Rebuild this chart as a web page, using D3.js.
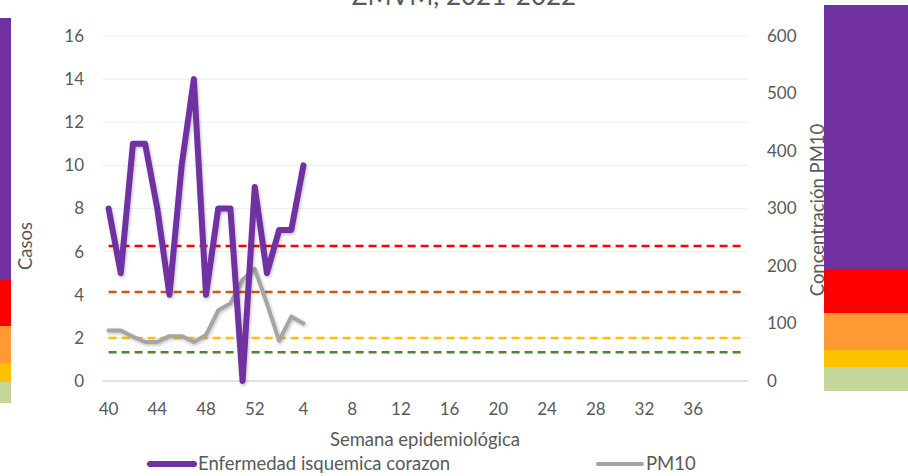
<!DOCTYPE html>
<html>
<head>
<meta charset="utf-8">
<script src="https://cdn.jsdelivr.net/npm/d3@7"></script>
<style>
  body { margin: 0; background: #fff; }
  text { font-family: Lato, "Open Sans", sans-serif; fill: #595959; }
</style>
</head>
<body>
<script>
// semanas epidemiologicas (2021 -> 2022)
const weeks = [40,41,42,43,44,45,46,47,48,49,50,51,52,
  1,2,3,4,5,6,7,8,9,10,11,12,13,14,15,16,17,18,19,20,
  21,22,23,24,25,26,27,28,29,30,31,32,33,34,35,36,37,38,39,40];

// casos semanales (eje izquierdo)
const casos = [8,5,11,11,8,4,10,14,4,8,8,0,9,5,7,7,10];

// concentracion PM10 (eje derecho)
const pm10 = [88,88,77,68,68,78,78,68,80,123,135,176,195,135,70,112,100];

// umbrales de calidad del aire PM10
const umbrales = [235, 155, 75, 50];
const umbralColors = ["#FF0000", "#C55A11", "#FFC000", "#548235"];

const leftTicks = [0,2,4,6,8,10,12,14,16];
const rightTicks = [0,100,200,300,400,500,600];

// franjas decorativas de color (de abajo hacia arriba)
const bandColors = ["#C4D79B", "#FFC000", "#FF9933", "#FF0000", "#7030A0"];
const bandStopsRight = [391, 367, 350, 313, 269, 5];
const bandStopsLeft = [403, 382, 363, 326, 280, 18];

const width = 908, height = 476;
const margin = {top: 36, left: 102.5, right: 160, bottom: 95};
const plotW = 748 - margin.left;
const plotBottom = 381;

let svg = d3.select("body").append("svg")
  .attr("width", width)
  .attr("height", height);

let defs = svg.append("defs");
let f = defs.append("filter").attr("id", "shadow")
  .attr("x", "-10%").attr("y", "-10%").attr("width", "120%").attr("height", "120%");
f.append("feDropShadow").attr("dx", 1).attr("dy", 1.5).attr("stdDeviation", 1.5)
  .attr("flood-color", "#000").attr("flood-opacity", 0.25);

let x = d3.scaleBand()
  .domain(d3.range(weeks.length))
  .range([margin.left, margin.left + plotW]);

let yL = d3.scaleLinear().domain([0, 16]).range([plotBottom, margin.top]);
let yR = d3.scaleLinear().domain([0, 600]).range([plotBottom, margin.top]);

let cx = i => x(i) + x.bandwidth() / 2;

// decorative strips
function strip(stops, x0, w) {
  for (let i = 0; i < bandColors.length; i++)
  {
    svg.append("rect")
      .attr("x", x0)
      .attr("y", stops[i + 1])
      .attr("width", w)
      .attr("height", stops[i] - stops[i + 1])
      .attr("fill", bandColors[i]);
  }
}
strip(bandStopsLeft, 0, 11);
strip(bandStopsRight, 824, 84);

// gridlines
svg.append("g")
  .selectAll("line")
  .data(leftTicks.filter(d => d > 0))
  .enter()
  .append("line")
  .attr("x1", margin.left)
  .attr("x2", margin.left + plotW)
  .attr("y1", d => yL(d))
  .attr("y2", d => yL(d))
  .attr("stroke", "#EFEFEF")
  .attr("stroke-width", 1.2);

// bottom axis line
svg.append("line")
  .attr("x1", margin.left)
  .attr("x2", margin.left + plotW)
  .attr("y1", plotBottom)
  .attr("y2", plotBottom)
  .attr("stroke", "#D9D9D9")
  .attr("stroke-width", 1.5);

// left axis
let axL = svg.append("g")
  .attr("transform", "translate(84,0)")
  .call(d3.axisLeft(yL).tickValues(leftTicks).tickSize(0).tickPadding(0));
axL.select(".domain").remove();
axL.selectAll("text").style("font-size", "17px").attr("fill", "#595959");

// right axis
let axR = svg.append("g")
  .attr("transform", "translate(767,0)")
  .call(d3.axisRight(yR).tickValues(rightTicks).tickSize(0).tickPadding(0));
axR.select(".domain").remove();
axR.selectAll("text").style("font-size", "17px").attr("fill", "#595959");

// bottom axis
let axB = svg.append("g")
  .attr("transform", "translate(0," + plotBottom + ")")
  .call(d3.axisBottom(x)
    .tickValues(d3.range(0, 49, 4))
    .tickFormat(i => weeks[i])
    .tickSize(0)
    .tickPadding(22));
axB.select(".domain").remove();
axB.selectAll("text").style("font-size", "17px").attr("fill", "#595959");

// threshold dashed lines
let thrLine = d3.line()
  .x((d, i) => cx(i))
  .y(d => yR(d));
umbrales.forEach((u, k) => {
  svg.append("path")
    .datum(weeks.map(() => u))
    .attr("d", thrLine)
    .attr("fill", "none")
    .attr("stroke", umbralColors[k])
    .attr("stroke-width", 2.5)
    .attr("stroke-dasharray", "8,5");
});

// PM10 line
svg.append("path")
  .datum(pm10)
  .attr("d", d3.line().x((d, i) => cx(i)).y(d => yR(d)))
  .attr("fill", "none")
  .attr("stroke", "#A5A5A5")
  .attr("stroke-width", 4)
  .attr("stroke-linejoin", "round")
  .attr("stroke-linecap", "round")
  .attr("filter", "url(#shadow)");

// casos line
svg.append("path")
  .datum(casos)
  .attr("d", d3.line().x((d, i) => cx(i)).y(d => yL(d)))
  .attr("fill", "none")
  .attr("stroke", "#7030A0")
  .attr("stroke-width", 6)
  .attr("stroke-linejoin", "round")
  .attr("stroke-linecap", "round")
  .attr("filter", "url(#shadow)");

// title (cut at the top, as in the original)
svg.append("text")
  .attr("x", 464)
  .attr("y", 5)
  .attr("text-anchor", "middle")
  .style("font-size", "26px")
  .text("ZMVM, 2021-2022");

// axis titles
svg.append("text")
  .attr("transform", "translate(32,246) rotate(-90)")
  .attr("text-anchor", "middle")
  .style("font-size", "18.5px")
  .text("Casos");

svg.append("text")
  .attr("transform", "translate(824,210) rotate(-90)")
  .attr("text-anchor", "middle")
  .style("font-size", "18.5px")
  .text("Concentración PM10");

svg.append("text")
  .attr("x", 425)
  .attr("y", 446)
  .attr("text-anchor", "middle")
  .style("font-size", "18.5px")
  .text("Semana epidemiológica");

// legend
let legend = [
  {name: "Enfermedad isquemica corazon", color: "#7030A0", w: 6, x: 150},
  {name: "PM10", color: "#A5A5A5", w: 4, x: 598}
];
let lg = svg.selectAll(".legend")
  .data(legend)
  .enter()
  .append("g")
  .attr("class", "legend");
lg.append("line")
  .attr("x1", d => d.x)
  .attr("x2", d => d.x + 44)
  .attr("y1", 464)
  .attr("y2", 464)
  .attr("stroke", d => d.color)
  .attr("stroke-width", d => d.w)
  .attr("stroke-linecap", "round");
lg.append("text")
  .attr("x", d => d.x + 48)
  .attr("y", 470)
  .style("font-size", "18.5px")
  .text(d => d.name);
</script>
</body>
</html>
